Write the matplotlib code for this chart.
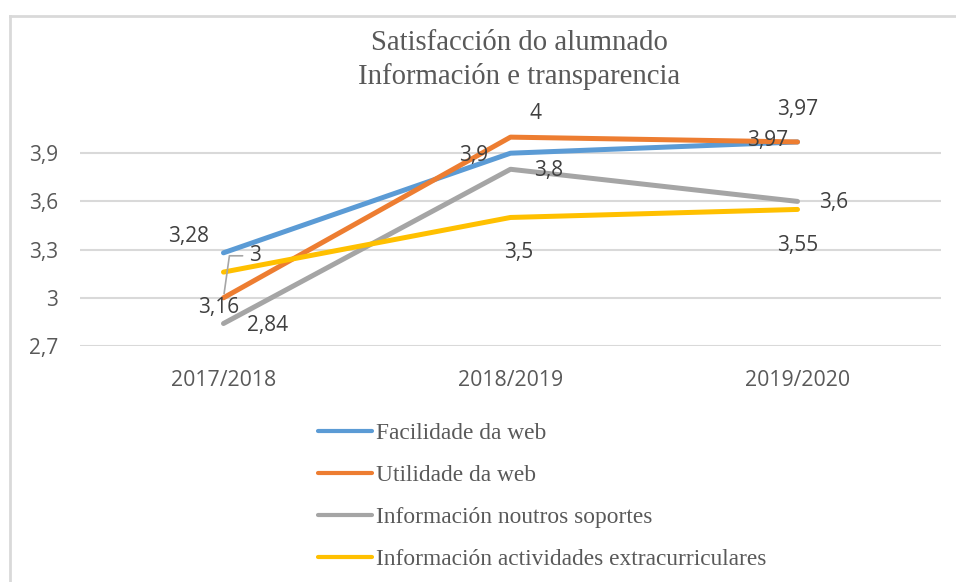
import matplotlib

matplotlib.use("Agg")
import matplotlib.pyplot as plt  # noqa: E402
from matplotlib.lines import Line2D  # noqa: E402

CATEGORIES = ["2017/2018", "2018/2019", "2019/2020"]
SERIES = [
    "Facilidade da web",
    "Utilidade da web",
    "Información noutros soportes",
    "Información actividades extracurriculares",
]
FACILIDADE = [3.28, 3.9, 3.97]
UTILIDADE = [3.0, 4.0, 3.97]
NOUTROS = [2.84, 3.8, 3.6]
EXTRA = [3.16, 3.5, 3.55]
YTICKS = [2.7, 3.0, 3.3, 3.6, 3.9]

COLORS = ["#5B9BD5", "#ED7D31", "#A5A5A5", "#FFC000"]
GRID = "#D9D9D9"
TEXT = "#595959"
LABEL = "#404040"
SANS = "Open Sans"
SERIF = "Liberation Serif"

# label offsets in pixels (dx, dy) for each series / point
OFFSETS = [
    [(-35, 16), (-37, -2), (-30, 1)],
    [(32, 42), (25, 24), (0, 32)],
    [(44, -2), (38, -1), (36, -1)],
    [(-5, -35), (8, -35), (0, -36)],
]


def fmt(v: float) -> str:
    s = f"{v:.2f}".rstrip("0").rstrip(".")
    return s.replace(".", ",")


fig = plt.figure(figsize=(9.56, 5.82), dpi=100)
ax = fig.add_axes([80 / 956, 1 - 346 / 582, 861 / 956, (346 - 105) / 582])

x = list(range(len(CATEGORIES)))
values = [FACILIDADE, UTILIDADE, NOUTROS, EXTRA]
for name, vals, color in zip(SERIES, values, COLORS):
    ax.plot(x, vals, color=color, lw=3.6, solid_capstyle="round",
            solid_joinstyle="round", label=name, zorder=3)

for si, (vals, offs) in enumerate(zip(values, OFFSETS)):
    for xi, (v, (dx, dy)) in enumerate(zip(vals, offs)):
        kw = {}
        if si == 1 and xi == 0:
            kw["arrowprops"] = dict(
                arrowstyle="-", color="#A6A6A6", lw=1.2,
                connectionstyle="angle,angleA=0,angleB=82,rad=0",
                relpos=(0, 0.5), shrinkA=3, shrinkB=3,
            )
        ax.annotate(fmt(v), (xi, v), xytext=(dx, dy), textcoords="offset pixels",
                    ha="center", va="center", fontsize=15, family=SANS,
                    color=LABEL, zorder=4, annotation_clip=False, **kw)

ax.set_xlim(-0.5, 2.5)
ax.set_ylim(2.7, 4.2)
ax.set_yticks(YTICKS, labels=[fmt(v) for v in YTICKS])
ax.set_xticks(x, labels=CATEGORIES)
ax.tick_params(axis="y", length=0, pad=16, labelsize=15, labelcolor=TEXT)
ax.tick_params(axis="x", length=0, pad=17.5, labelsize=15.3, labelcolor=TEXT)
for lab in ax.get_xticklabels() + ax.get_yticklabels():
    lab.set_family(SANS)
for sp in ax.spines.values():
    sp.set_visible(False)
ax.grid(axis="y", color=GRID, lw=1.5)
ax.set_axisbelow(True)

fig.text(519 / 956, 1 - 43 / 582, "Satisfacción do alumnado", ha="center", va="center",
         fontsize=20.7, family=SERIF, color=TEXT)
fig.text(519 / 956, 1 - 76 / 582, "Información e transparencia", ha="center", va="center",
         fontsize=20.7, family=SERIF, color=TEXT)

leg = fig.legend(loc="upper left", bbox_to_anchor=(318 / 956, 1 - 423 / 582),
                 frameon=False, prop={"family": SERIF, "size": 16.8},
                 handlelength=2.3, handletextpad=0.18, labelspacing=0.88,
                 borderaxespad=0, borderpad=0)
for t in leg.get_texts():
    t.set_color(TEXT)
for h in leg.get_lines():
    h.set_linewidth(3.0)

# chart border (Excel chart area)
fig.add_artist(Line2D([10 / 956, 10 / 956], [0, 1 - 16 / 582], color=GRID, lw=2))
fig.add_artist(Line2D([10 / 956, 1], [1 - 16 / 582, 1 - 16 / 582], color=GRID, lw=2))

fig.savefig("out.png", dpi=100)
